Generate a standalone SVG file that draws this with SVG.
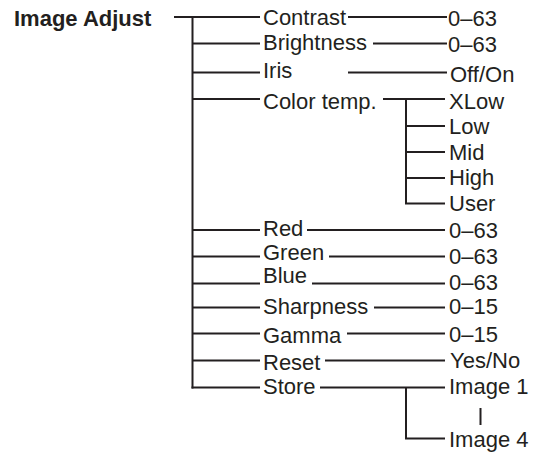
<svg xmlns="http://www.w3.org/2000/svg" width="536" height="452" viewBox="0 0 536 452">
<style>
text{font-family:"Liberation Sans",Arial,sans-serif;font-size:22px;fill:#231f20}
.t{font-weight:bold}
#connectors path{fill:none;stroke:#231f20;stroke-width:2}
</style>
<rect width="536" height="452" fill="#fff"/>
<g id="connectors">
<path d="M174,17H260M192.5,17V388.5"/>
<path d="M192.5,43.5H260M192.5,72.5H260M192.5,99H260M192.5,230H260M192.5,256.5H260M192.5,283.5H260M192.5,307.5H260M192.5,333.5H260M192.5,360.5H260M191.5,387.5H260"/>
<path d="M348,17H447M373,43.5H447M348,72.5H447M383,99H445"/>
<path d="M406,99V203.5H445M406,126H445M406,152H445M406,178H445"/>
<path d="M307,230H445M329,256.5H445M312,283.5H445M374,307.5H445M347,333.5H445M325,360.5H445M320,387.5H445"/>
<path d="M406,387.5V438.5H445"/>
<path d="M480.5,408V425"/>
</g>
<g id="image-adjust"><text class="t" x="14" y="26">Image Adjust</text></g>
<g id="contrast"><text x="263" y="25">Contrast</text><text x="448" y="26">0–63</text></g>
<g id="brightness"><text x="263" y="49.5">Brightness</text><text x="448" y="51.5">0–63</text></g>
<g id="iris"><text x="263" y="77.5">Iris</text><text x="450" y="81.5">Off/On</text></g>
<g id="color-temp"><text x="263" y="108.5">Color temp.</text></g>
<g id="xlow"><text x="449" y="108.5">XLow</text></g>
<g id="low"><text x="449" y="133.5">Low</text></g>
<g id="mid"><text x="449" y="159.5">Mid</text></g>
<g id="high"><text x="449" y="185">High</text></g>
<g id="user"><text x="449" y="210.5">User</text></g>
<g id="red"><text x="263" y="236">Red</text><text x="449" y="237.5">0–63</text></g>
<g id="green"><text x="263" y="260">Green</text><text x="449" y="263.5">0–63</text></g>
<g id="blue"><text x="263" y="283">Blue</text><text x="449" y="290">0–63</text></g>
<g id="sharpness"><text x="263" y="314">Sharpness</text><text x="449" y="314">0–15</text></g>
<g id="gamma"><text x="263" y="342.5">Gamma</text><text x="449" y="341.5">0–15</text></g>
<g id="reset"><text x="263" y="370">Reset</text><text x="450" y="368">Yes/No</text></g>
<g id="store"><text x="263" y="394">Store</text></g>
<g id="image1"><text x="449" y="394">Image 1</text></g>
<g id="image4"><text x="449" y="446.5">Image 4</text></g>
</svg>
